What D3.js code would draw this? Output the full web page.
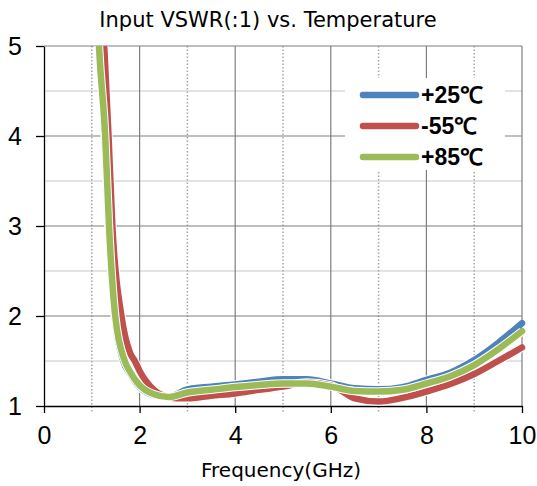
<!DOCTYPE html>
<html>
<head>
<meta charset="utf-8">
<script src="https://cdn.jsdelivr.net/npm/d3@7"></script>
<style>
  body { margin: 0; background: #fff; }
  svg { display: block; }
</style>
</head>
<body>
<div id="chart"></div>
<script>
// data
var seriesNames = ["+25℃", "-55℃", "+85℃"];
var seriesColors = ["#4f81bd", "#c0504d", "#9bbb59"];

var freq25 = [1.08, 1.15, 1.27, 1.35, 1.48, 1.66, 1.8, 2.0, 2.3, 2.6, 3.0, 3.5, 4.0, 4.5, 5.0, 5.5, 6.0, 6.5, 7.0, 7.5, 8.0, 8.5, 9.0, 9.5, 10];
var vswr25 = [5.6, 5.0, 4.0, 3.0, 2.0, 1.5, 1.36, 1.21, 1.12, 1.10, 1.185, 1.215, 1.24, 1.27, 1.296, 1.296, 1.25, 1.196, 1.185, 1.21, 1.29, 1.37, 1.51, 1.70, 1.92];

var freqM55 = [1.2, 1.26, 1.35, 1.43, 1.62, 1.8, 1.9, 2.0, 2.3, 2.6, 2.8, 3.0, 3.5, 4.0, 4.5, 5.0, 5.5, 6.0, 6.25, 6.5, 7.0, 7.5, 8.0, 8.5, 9.0, 9.5, 10];
var vswrM55 = [5.6, 5.0, 4.0, 3.0, 2.0, 1.59, 1.5, 1.39, 1.18, 1.10, 1.085, 1.085, 1.115, 1.14, 1.18, 1.215, 1.26, 1.23, 1.16, 1.085, 1.05, 1.09, 1.16, 1.245, 1.355, 1.50, 1.65];

var freq85 = [1.1, 1.15, 1.28, 1.36, 1.49, 1.69, 1.8, 2.0, 2.3, 2.6, 3.0, 3.5, 4.0, 4.5, 5.0, 5.5, 6.0, 6.5, 7.0, 7.5, 8.0, 8.5, 9.0, 9.5, 10];
var vswr85 = [5.6, 5.0, 4.0, 3.0, 2.0, 1.5, 1.38, 1.23, 1.13, 1.10, 1.15, 1.18, 1.21, 1.233, 1.25, 1.25, 1.215, 1.167, 1.16, 1.18, 1.25, 1.33, 1.455, 1.63, 1.83];

var xMajor = [0, 2, 4, 6, 8, 10];
var xMinor = [1, 3, 5, 7, 9];
var yMajor = [1, 2, 3, 4, 5];
var yMinor = [1.5, 2.5, 3.5, 4.5];

var svgWidth = 537;
var svgHeight = 486;

var margin = { top: 46, right: 15, bottom: 80, left: 44 };
var width = 478;
var height = 360;

var svg = d3.select("#chart")
  .append("svg")
  .attr("width", svgWidth)
  .attr("height", svgHeight);

var chartGroup = svg.append("g")
  .attr("transform", `translate(${margin.left}, ${margin.top})`);

var xScale = d3.scaleLinear().domain([0, 10]).range([0, width]);
var yScale = d3.scaleLinear().domain([1, 5]).range([height, 0]);

// horizontal minor grid
chartGroup.selectAll(".hminor")
  .data(yMinor).enter().append("line")
  .attr("x1", 0).attr("x2", width)
  .attr("y1", d => yScale(d)).attr("y2", d => yScale(d))
  .attr("stroke", "#c8c8c8").attr("stroke-width", 1.2);

// vertical minor grid (dotted), running a bit below the axis
chartGroup.selectAll(".vminor")
  .data(xMinor).enter().append("line")
  .attr("x1", d => xScale(d)).attr("x2", d => xScale(d))
  .attr("y1", 0).attr("y2", height + 6)
  .attr("stroke", "#a6a6a6").attr("stroke-width", 1.5)
  .attr("stroke-dasharray", "1.5,2");

// major grid
chartGroup.selectAll(".hmajor")
  .data(yMajor.slice(1)).enter().append("line")
  .attr("x1", 0).attr("x2", width)
  .attr("y1", d => yScale(d)).attr("y2", d => yScale(d))
  .attr("stroke", "#7f7f7f").attr("stroke-width", 1.2);

chartGroup.selectAll(".vmajor")
  .data(xMajor.slice(1)).enter().append("line")
  .attr("x1", d => xScale(d)).attr("x2", d => xScale(d))
  .attr("y1", 0).attr("y2", height)
  .attr("stroke", "#7f7f7f").attr("stroke-width", 1.2);

// axes
var xAxis = d3.axisBottom(xScale).tickValues(xMajor).tickFormat(d3.format("d"))
  .tickSize(7).tickPadding(13).tickSizeOuter(0);
var yAxis = d3.axisLeft(yScale).tickValues(yMajor).tickFormat(d3.format("d"))
  .tickSize(8).tickPadding(14).tickSizeOuter(0);

var gx = chartGroup.append("g")
  .attr("transform", `translate(0, ${height})`)
  .call(xAxis);

var gy = chartGroup.append("g")
  .call(yAxis);

[gx, gy].forEach(function(g) {
  g.selectAll("path, line").attr("stroke", "#000").attr("stroke-width", 1.3);
  g.selectAll("text")
    .attr("font-family", "Liberation Sans, Arial, sans-serif")
    .attr("font-size", "25px")
    .attr("fill", "#000");
});

// clip the curves to the plot area
chartGroup.append("clipPath").attr("id", "plotclip")
  .append("rect").attr("x", -5).attr("y", 0).attr("width", width + 10).attr("height", height + 5);

var line = d3.line()
  .x(d => xScale(d[0]))
  .y(d => yScale(d[1]))
  .curve(d3.curveMonotoneX);

var series = [
  d3.zip(freq25, vswr25),
  d3.zip(freqM55, vswrM55),
  d3.zip(freq85, vswr85)
];

var curves = chartGroup.append("g").attr("clip-path", "url(#plotclip)");

series.forEach(function(s, i) {
  curves.append("path")
    .attr("d", line(s))
    .attr("fill", "none")
    .attr("stroke", "#fff")
    .attr("stroke-width", 8.5)
    .attr("stroke-linejoin", "round");
  curves.append("path")
    .attr("d", line(s))
    .attr("fill", "none")
    .attr("stroke", seriesColors[i])
    .attr("stroke-width", 6.5)
    .attr("stroke-linejoin", "round")
    .attr("stroke-linecap", "round");
});

// legend
var legend = svg.append("g");
legend.append("rect")
  .attr("x", 345).attr("y", 78).attr("width", 160).attr("height", 92)
  .attr("fill", "#fff");

var legendRows = legend.selectAll(".row")
  .data(seriesNames).enter().append("g")
  .attr("transform", (d, i) => `translate(0, ${95 + i * 31})`);

legendRows.append("line")
  .attr("x1", 363).attr("x2", 416)
  .attr("y1", 0).attr("y2", 0)
  .attr("stroke", (d, i) => seriesColors[i])
  .attr("stroke-width", 6.5)
  .attr("stroke-linecap", "round");

legendRows.append("text")
  .attr("x", 421)
  .attr("y", 0)
  .attr("dy", "0.36em")
  .attr("font-family", "Liberation Sans, Arial, sans-serif")
  .attr("font-size", "23px")
  .attr("font-weight", "bold")
  .text(d => d);

// title
svg.append("text")
  .attr("x", 268)
  .attr("y", 27)
  .attr("text-anchor", "middle")
  .attr("font-family", "DejaVu Sans, Verdana, sans-serif")
  .attr("font-size", "21px")
  .attr("fill", "#000")
  .text("Input VSWR(:1) vs. Temperature");

// x axis label
svg.append("text")
  .attr("x", 281)
  .attr("y", 477)
  .attr("text-anchor", "middle")
  .attr("font-family", "DejaVu Sans, Verdana, sans-serif")
  .attr("font-size", "20px")
  .attr("fill", "#000")
  .text("Frequency(GHz)");
</script>
</body>
</html>
